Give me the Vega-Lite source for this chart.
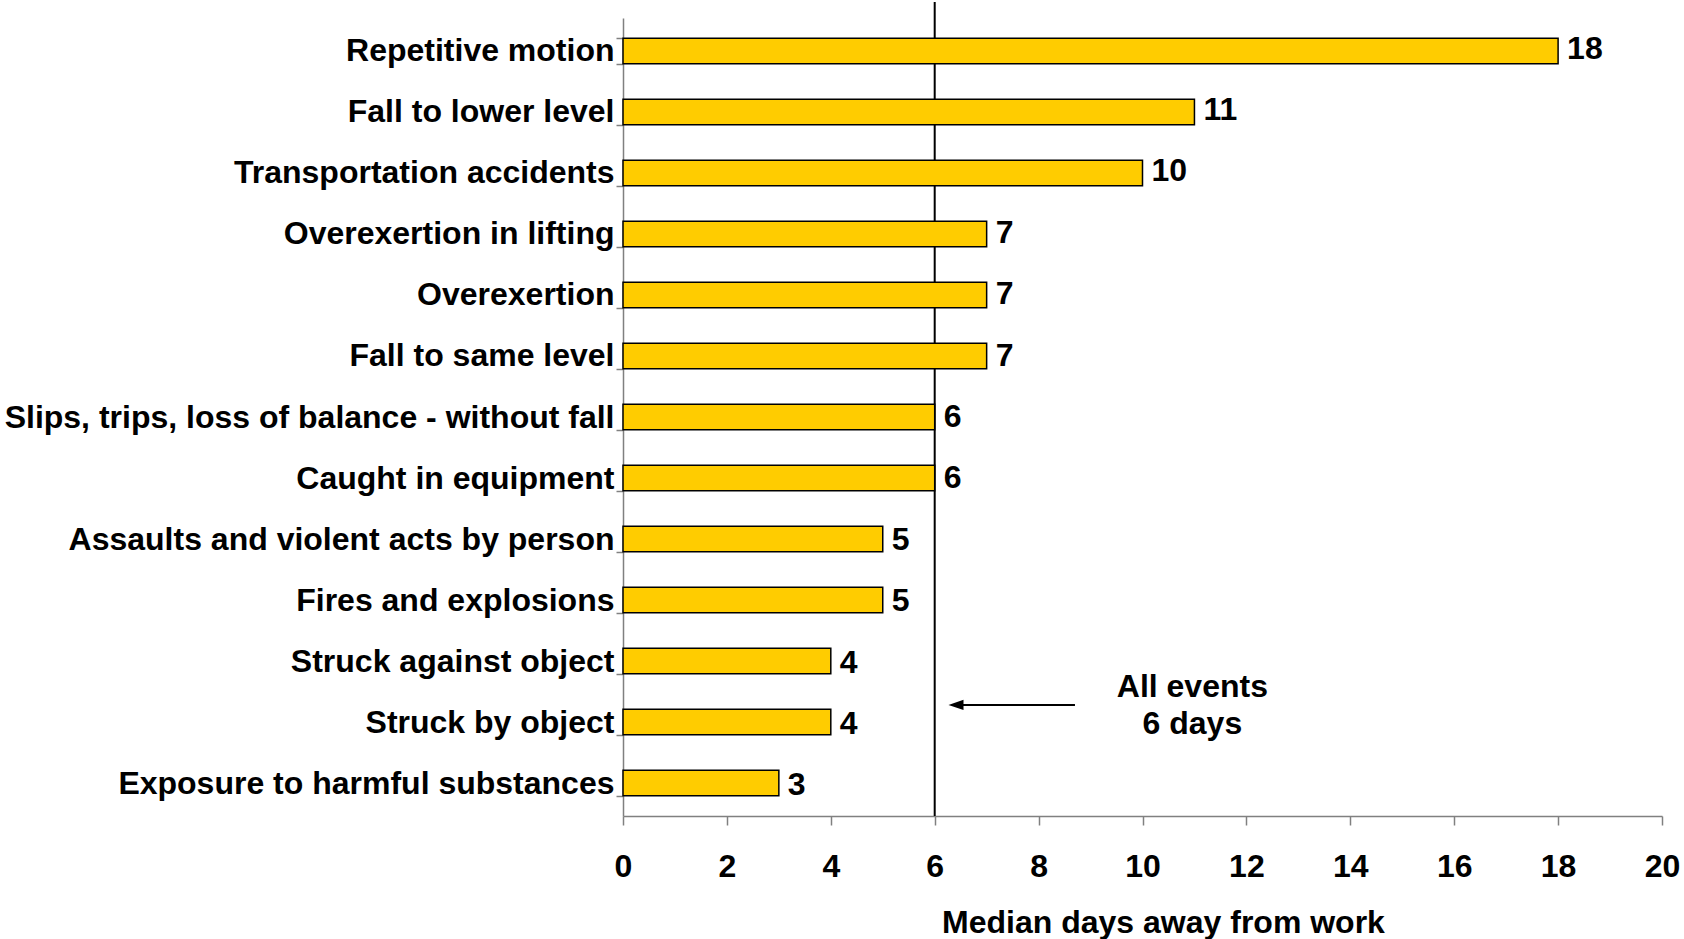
{
  "$schema": "https://vega.github.io/schema/vega-lite/v6.json",
  "width": 1039,
  "height": 798,
  "autosize": {"type": "none"},
  "padding": {"left": 623, "top": 18, "right": 22, "bottom": 123},
  "background": "white",
  "config": {"view": {"stroke": null}, "font": "Liberation Sans"},
  "datasets": {
    "events": [
      {"event": "Repetitive motion", "days": 18},
      {"event": "Fall to lower level", "days": 11},
      {"event": "Transportation accidents", "days": 10},
      {"event": "Overexertion in lifting", "days": 7},
      {"event": "Overexertion", "days": 7},
      {"event": "Fall to same level", "days": 7},
      {"event": "Slips, trips, loss of balance - without fall", "days": 6},
      {"event": "Caught in equipment", "days": 6},
      {"event": "Assaults and violent acts by person", "days": 5},
      {"event": "Fires and explosions", "days": 5},
      {"event": "Struck against object", "days": 4},
      {"event": "Struck by object", "days": 4},
      {"event": "Exposure to harmful substances", "days": 3}
    ],
    "ref": [{"days": 6, "y": -0.26, "y2": 13}],
    "arrow": [{"days": 6.5, "days2": 8.7, "y": 11.19}],
    "head": [{"days": 6.41, "y": 11.19}],
    "note": [{"days": 10.96, "y": 10.9, "text": ["All events", "6 days"]}]
  },
  "resolve": {"scale": {"y": "independent"}, "axis": {"y": "independent"}},
  "layer": [
    {
      "data": {"name": "ref"},
      "mark": {"type": "rule", "color": "black", "strokeWidth": 2},
      "encoding": {
        "x": {"field": "days", "type": "quantitative", "scale": {"domain": [0, 20], "nice": false}},
        "y": {"field": "y", "type": "quantitative", "scale": {"domain": [0, 13], "reverse": true, "nice": false, "zero": false}, "axis": null},
        "y2": {"field": "y2"}
      }
    },
    {
      "data": {"name": "events"},
      "mark": {"type": "bar", "fill": "#FFCC00", "stroke": "black", "strokeWidth": 1.5},
      "encoding": {
        "x": {
          "field": "days", "type": "quantitative",
          "scale": {"domain": [0, 20], "nice": false},
          "axis": {
            "values": [0, 2, 4, 6, 8, 10, 12, 14, 16, 18, 20],
            "grid": false,
            "labelFontSize": 32, "labelFontWeight": "bold", "labelColor": "black",
            "labelPadding": 26, "labelFlush": false,
            "tickSize": 9, "tickColor": "#808080", "domainColor": "#808080", "tickWidth": 1.5, "domainWidth": 1.5,
            "title": "Median days away from work",
            "titleFontSize": 32, "titleFontWeight": "bold", "titleColor": "black",
            "titleX": 540, "titleY": 91, "titleAlign": "center", "titleBaseline": "top"
          }
        },
        "y": {
          "field": "event", "type": "nominal", "sort": null,
          "scale": {"paddingInner": 0.58, "paddingOuter": 0.33},
          "axis": {
            "title": null, "tickBand": "extent",
            "labelFontSize": 32, "labelFontWeight": "bold", "labelColor": "black",
            "labelPadding": 2, "labelLimit": 0,
            "tickSize": 7, "tickColor": "#808080", "domainColor": "#808080", "tickWidth": 1.5, "domainWidth": 1.5
          }
        }
      }
    },
    {
      "data": {"name": "events"},
      "mark": {"type": "text", "align": "left", "baseline": "middle", "dx": 9, "dy": 0, "fontSize": 32, "fontWeight": "bold", "color": "black"},
      "encoding": {
        "x": {"field": "days", "type": "quantitative", "scale": {"domain": [0, 20], "nice": false}},
        "y": {"field": "event", "type": "nominal", "sort": null, "scale": {"paddingInner": 0.58, "paddingOuter": 0.33}, "axis": null},
        "text": {"field": "days", "type": "quantitative"}
      }
    },
    {
      "data": {"name": "arrow"},
      "mark": {"type": "rule", "color": "black", "strokeWidth": 2},
      "encoding": {
        "x": {"field": "days", "type": "quantitative", "scale": {"domain": [0, 20], "nice": false}},
        "x2": {"field": "days2"},
        "y": {"field": "y", "type": "quantitative", "scale": {"domain": [0, 13], "reverse": true, "nice": false, "zero": false}, "axis": null}
      }
    },
    {
      "data": {"name": "head"},
      "mark": {"type": "point", "shape": "M -1 0 L 1 -0.67 L 1 0.67 Z", "size": 225, "filled": true, "color": "black", "opacity": 1},
      "encoding": {
        "x": {"field": "days", "type": "quantitative", "scale": {"domain": [0, 20], "nice": false}},
        "y": {"field": "y", "type": "quantitative", "scale": {"domain": [0, 13], "reverse": true, "nice": false, "zero": false}, "axis": null}
      }
    },
    {
      "data": {"name": "note"},
      "mark": {"type": "text", "align": "center", "baseline": "middle", "fontSize": 32, "fontWeight": "bold", "color": "black", "lineHeight": 37},
      "encoding": {
        "x": {"field": "days", "type": "quantitative", "scale": {"domain": [0, 20], "nice": false}},
        "y": {"field": "y", "type": "quantitative", "scale": {"domain": [0, 13], "reverse": true, "nice": false, "zero": false}, "axis": null},
        "text": {"field": "text"}
      }
    }
  ]
}
